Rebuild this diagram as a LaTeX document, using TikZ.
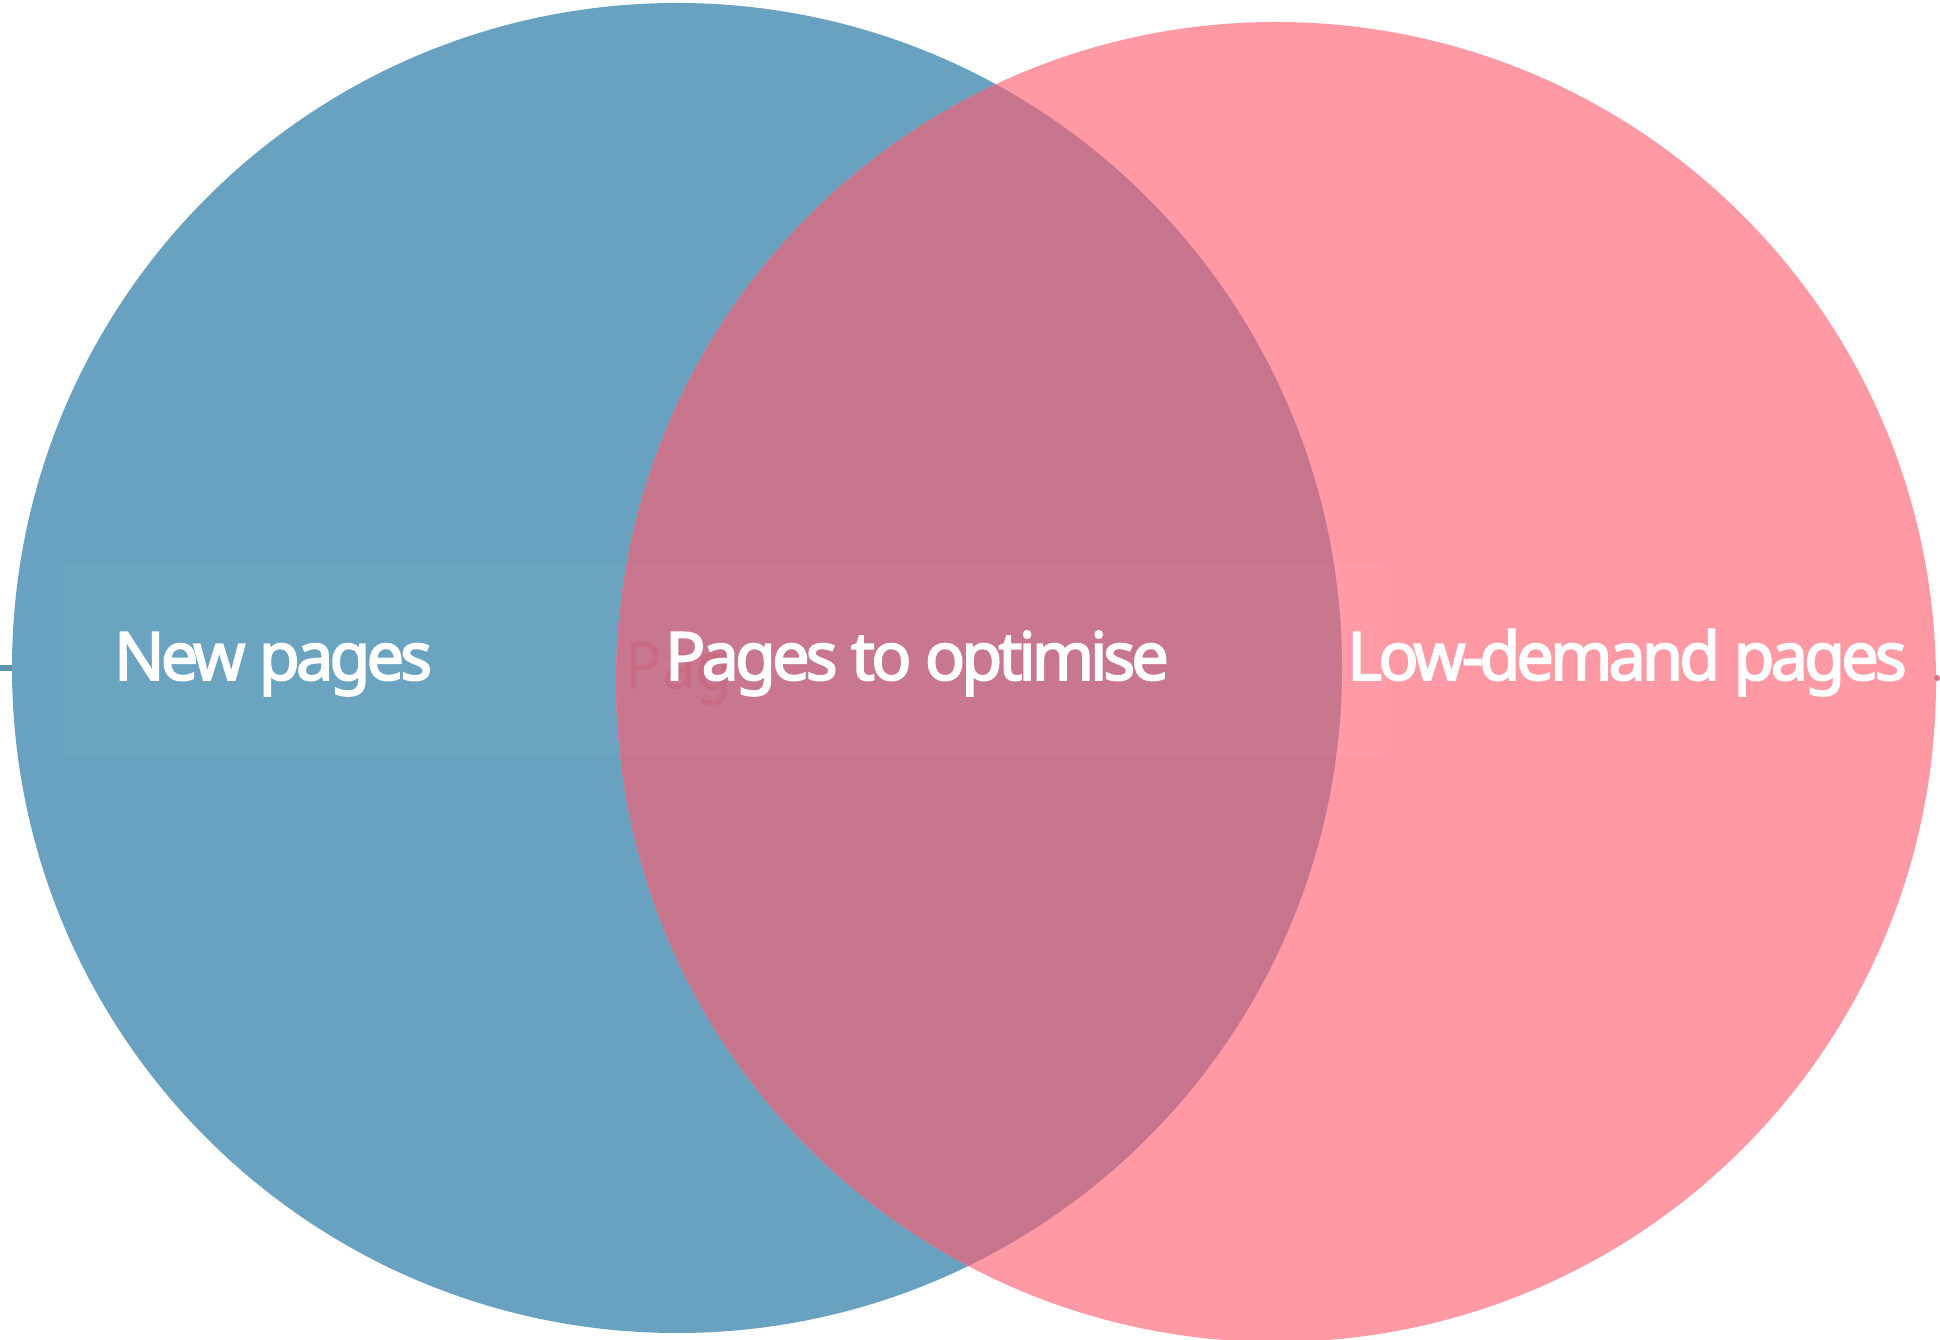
\documentclass[tikz,border=0pt]{standalone}
\usepackage{fontspec}
\setmainfont{Noto Sans}[FakeStretch=0.9]
\newfontfamily\labelfont{Noto Sans}[LetterSpace=-6,FakeBold=2.5]
\definecolor{newblue}{RGB}{104,162,192}
\definecolor{lowpink}{RGB}{255,154,165}
\definecolor{bothmix}{RGB}{199,116,141}
\definecolor{ghostred}{RGB}{200,80,105}
\tikzset{setlabel/.style={text=white,anchor=base,inner sep=0pt,font=\fontsize{19}{22}\labelfont}}
\begin{document}
\begin{tikzpicture}
	\useasboundingbox (0,0) rectangle (19.4,13.4);
	\def\ra{6.65}
	\def\rb{6.60}

	% SETS
	\fill[newblue] (6.77,6.72) circle (\ra);
	\fill[lowpink] (12.76,6.58) circle (\rb);
	\begin{scope}
		\clip (6.77,6.72) circle (\ra);
		\fill[bothmix] (12.76,6.58) circle (\rb);
	\end{scope}

	% FAINT BAND
	\fill[white,opacity=.025] (0.62,5.85) rectangle (13.86,7.77);
	\node[setlabel,text=ghostred,text opacity=.3,anchor=base west,font=\fontsize{19}{22}\selectfont] (ghost) at (6.25,6.50) {Pag};

	% EDGE MARKS
	\coordinate (tickl) at (0,6.72);
	\coordinate (tickr) at (0.12,6.72);
	\draw[newblue!90!black,line width=1.5pt] (tickl) -- (tickr);
	\fill[ghostred!80] (19.37,6.62) circle (.03);

	% LABELS
	\node[setlabel] (new) at (2.73,6.60) {New pages};
	\node[setlabel] (both) at (9.17,6.60) {Pages to optimise};
	\node[setlabel] (low) at (16.27,6.60) {Low-demand pages};
\end{tikzpicture}
\end{document}
